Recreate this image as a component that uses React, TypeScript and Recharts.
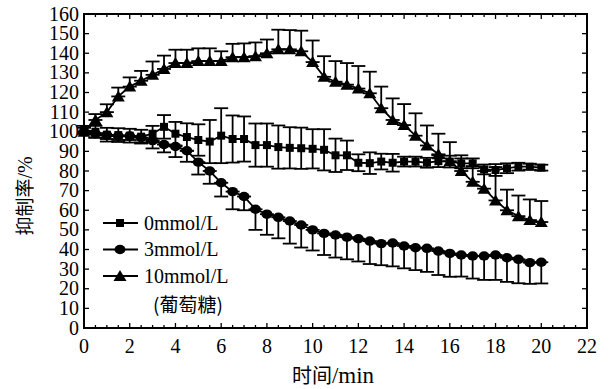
import React from 'react';
import { LineChart, Line, XAxis, YAxis, ErrorBar, ReferenceArea, Legend } from 'recharts';

const times = [0, 0.5, 1, 1.5, 2, 2.5, 3, 3.5, 4, 4.5, 5, 5.5, 6, 6.5, 7, 7.5, 8, 8.5, 9, 9.5, 10, 10.5, 11, 11.5, 12, 12.5, 13, 13.5, 14, 14.5, 15, 15.5, 16, 16.5, 17, 17.5, 18, 18.5, 19, 19.5, 20];

const glucose0 = [101, 100, 98.5, 98.3, 98, 97.5, 99, 102.5, 99, 97.3, 95.8, 95, 98, 96.3, 96.3, 93.2, 93.2, 92.2, 91.8, 91.6, 91.3, 90.8, 88, 88, 84.2, 84, 84.8, 84.2, 84.8, 84.8, 84.2, 85, 84.8, 83.9, 83.9, 80.8, 80.5, 81.4, 82.2, 82.2, 81.7];
const glucose0Err = [2, 3, 3.5, 3.5, 3.5, 3.5, 4, 6, 6, 7, 8, 11, 14, 12, 11.5, 11, 11, 11, 10.5, 10.5, 10, 10.5, 8.5, 7.5, 4.3, 5.5, 4, 4.5, 2.5, 2.5, 2.5, 3, 3, 2.5, 2.5, 2.5, 3, 2.5, 2, 1.5, 1.5];

const glucose3 = [100, 99, 98.3, 97.8, 97.8, 97, 95.5, 93.5, 92.5, 90.3, 84.5, 80, 74, 69.5, 67, 60.5, 58, 56.4, 54.5, 52.5, 50, 48.2, 47.4, 46.3, 45.5, 44.3, 43, 43.3, 41.8, 40.9, 40.6, 39.2, 38, 37.2, 36.7, 36.7, 37.2, 35.8, 35, 33.3, 33.5];
const glucose3Err = [1, 2, 2, 2, 2, 2.5, 4, 4, 5.4, 5.6, 6.3, 6.5, 7, 9, 7, 10.5, 10.5, 10.7, 11.5, 11.5, 10.5, 11, 11.5, 11.3, 11.6, 11.7, 11, 11.9, 11.4, 11.4, 12, 12.2, 11.9, 11, 11.5, 12.2, 12.7, 12.3, 12.2, 10.8, 10.8];

const glucose10 = [100, 106, 110, 118, 123, 126, 129, 132, 135, 135, 136, 136, 136, 138, 138, 138.5, 140, 142, 142, 141, 135.5, 128, 125.5, 124, 122, 119.6, 112, 106, 103.4, 98, 93, 88.5, 85, 80, 74.5, 71, 65, 60, 57, 55, 54];
const glucose10Err = [2, 3, 4, 4.5, 4.7, 5, 6.8, 6.8, 6.8, 6.8, 6.5, 6.5, 5, 6.8, 7, 7, 7, 10, 9.8, 10.5, 11, 10.5, 10.5, 11, 11.5, 11, 11, 11, 10.7, 11.4, 10.2, 10.5, 9.7, 8, 8, 9, 17, 10.5, 10.5, 10.5, 10.7];

const xTicks = [0, 0.5, 1, 1.5, 2, 2.5, 3, 3.5, 4, 4.5, 5, 5.5, 6, 6.5, 7, 7.5, 8, 8.5, 9, 9.5, 10, 10.5, 11, 11.5, 12, 12.5, 13, 13.5, 14, 14.5, 15, 15.5, 16, 16.5, 17, 17.5, 18, 18.5, 19, 19.5, 20, 20.5, 21, 21.5, 22];
const xLabelTicks = [0, 2, 4, 6, 8, 10, 12, 14, 16, 18, 20, 22];
const yTicks = [0, 10, 20, 30, 40, 50, 60, 70, 80, 90, 100, 110, 120, 130, 140, 150, 160];

const seriesKeys = ['g0', 'g3', 'g10'];
const seriesNames = ['0mmol/L', '3mmol/L', '10mmol/L'];
const legendNote = '(葡萄糖)';
const xTitleCjk = '时间';
const xTitleUnit = '/min';
const yTitleCjk = '抑制率';
const yTitleUnit = '/%';

const data = times.map((t, i) => ({
  t,
  g0: glucose0[i],
  g0e: [glucose0Err[i], glucose0Err[i]],
  g3: glucose3[i],
  g3e: [glucose3Err[i], 0],
  g10: glucose10[i],
  g10e: [0, glucose10Err[i]],
}));

const W = 610;
const H = 389;
const MARGIN = { top: 14, right: 23, bottom: 0, left: 0 };
const X_AXIS_H = 61;
const Y_AXIS_W = 84;
const PLOT_TOP = MARGIN.top;
const PLOT_RIGHT = W - MARGIN.right;
const SERIF = "'Liberation Serif', Tinos, 'Times New Roman', 'DejaVu Serif', serif";
const CJK = "'Noto Sans CJK SC', 'Noto Sans CJK JP', sans-serif";

function Square({ cx, cy, s = 8 }: any) {
  return <rect x={cx - s / 2} y={cy - s / 2} width={s} height={s} fill="#000" />;
}
function Dot({ cx, cy }: any) {
  return <ellipse cx={cx} cy={cy} rx={5.5} ry={4.7} fill="#000" />;
}
function Tri({ cx, cy }: any) {
  return <polygon points={`${cx},${cy - 6} ${cx + 6.5},${cy + 5} ${cx - 6.5},${cy + 5}`} fill="#000" />;
}
const shapes: any = { g0: Square, g3: Dot, g10: Tri };

function XTick(props: any) {
  const { x, y, payload } = props;
  const v = payload.value;
  const major = xLabelTicks.includes(v);
  const len = major ? 5 : 3;
  return (
    <g>
      <line x1={x} x2={x} y1={y} y2={y - len} stroke="#000" strokeWidth={1.3} />
      <line x1={x} x2={x} y1={PLOT_TOP} y2={PLOT_TOP + len} stroke="#000" strokeWidth={1.3} />
      {major && (
        <text x={x} y={y + 25} textAnchor="middle" style={{ fontFamily: SERIF, fontSize: 20 }} fill="#000">
          {v}
        </text>
      )}
    </g>
  );
}

function YTick(props: any) {
  const { x, y, payload } = props;
  const v = payload.value;
  return (
    <g>
      <line x1={x} x2={x + 5} y1={y} y2={y} stroke="#000" strokeWidth={1.3} />
      <line x1={PLOT_RIGHT} x2={PLOT_RIGHT - 5} y1={y} y2={y} stroke="#000" strokeWidth={1.3} />
      <text x={x - 5} y={y + 6.5} textAnchor="end" style={{ fontFamily: SERIF, fontSize: 20 }} fill="#000">
        {v}
      </text>
    </g>
  );
}

function LegendContent() {
  return (
    <svg width={150} height={120} style={{ display: 'block', overflow: 'visible' }}>
      {seriesKeys.map((k, i) => {
        const cy = 18 + i * 26.5;
        const Shape = shapes[k];
        return (
          <g key={k}>
            <line x1={3} x2={38} y1={cy} y2={cy} stroke="#000" strokeWidth={2} />
            <Shape cx={20} cy={cy} />
            <text x={44} y={cy + 6.5} style={{ fontFamily: SERIF, fontSize: 20 }} fill="#000">
              {seriesNames[i]}
            </text>
          </g>
        );
      })}
      <text x={88} y={107} textAnchor="middle" style={{ fontFamily: CJK, fontSize: 19 }} fill="#000">
        {legendNote}
      </text>
    </svg>
  );
}

export default function App() {
  return (
    <div style={{ position: 'absolute', left: 0, top: 0, width: W, height: H, background: '#fff' }}>
      <LineChart width={W} height={H} data={data} margin={MARGIN}>
        <XAxis
          dataKey="t"
          type="number"
          domain={[0, 22]}
          ticks={xTicks}
          interval={0}
          height={X_AXIS_H}
          tickSize={0}
          tickMargin={0}
          tickLine={false}
          axisLine={false}
          tick={(p: any) => <XTick {...p} />}
          label={{
            content: () => (
              <text x={333} y={383} textAnchor="middle" fill="#000">
                <tspan style={{ fontFamily: CJK, fontSize: 20 }}>{xTitleCjk}</tspan>
                <tspan style={{ fontFamily: SERIF, fontSize: 23 }}>{xTitleUnit}</tspan>
              </text>
            ),
          }}
        />
        <YAxis
          type="number"
          domain={[0, 160]}
          ticks={yTicks}
          interval={0}
          width={Y_AXIS_W}
          tickSize={0}
          tickMargin={0}
          tickLine={false}
          axisLine={false}
          tick={(p: any) => <YTick {...p} />}
          label={{
            content: () => (
              <text transform="translate(32,196) rotate(-90)" textAnchor="middle" fill="#000">
                <tspan style={{ fontFamily: CJK, fontSize: 19 }}>{yTitleCjk}</tspan>
                <tspan style={{ fontFamily: SERIF, fontSize: 20 }}>{yTitleUnit}</tspan>
              </text>
            ),
          }}
        />
        <ReferenceArea x1={0} x2={22} y1={0} y2={160} fill="none" stroke="#000" strokeWidth={2} ifOverflow="visible" />
        <Legend
          layout="horizontal"
          verticalAlign="middle"
          align="center"
          content={<LegendContent />}
          wrapperStyle={{ left: 100, top: 205, width: 150, height: 120 }}
        />
        <Line
          dataKey="g0"
          name={seriesNames[0]}
          stroke="#000"
          strokeWidth={1.8}
          isAnimationActive={false}
          dot={(p: any) => <Square key={`s${p.index}`} cx={p.cx} cy={p.cy} />}
          activeDot={false}
        >
          <ErrorBar dataKey="g0e" direction="y" width={7} stroke="#000" strokeWidth={1.8} />
        </Line>
        <Line
          dataKey="g3"
          name={seriesNames[1]}
          stroke="#000"
          strokeWidth={1.8}
          isAnimationActive={false}
          dot={(p: any) => <Dot key={`c${p.index}`} cx={p.cx} cy={p.cy} />}
          activeDot={false}
        >
          <ErrorBar dataKey="g3e" direction="y" width={7} stroke="#000" strokeWidth={1.8} />
        </Line>
        <Line
          dataKey="g10"
          name={seriesNames[2]}
          stroke="#000"
          strokeWidth={1.8}
          isAnimationActive={false}
          dot={(p: any) => <Tri key={`t${p.index}`} cx={p.cx} cy={p.cy} />}
          activeDot={false}
        >
          <ErrorBar dataKey="g10e" direction="y" width={7} stroke="#000" strokeWidth={1.8} />
        </Line>
      </LineChart>
    </div>
  );
}
